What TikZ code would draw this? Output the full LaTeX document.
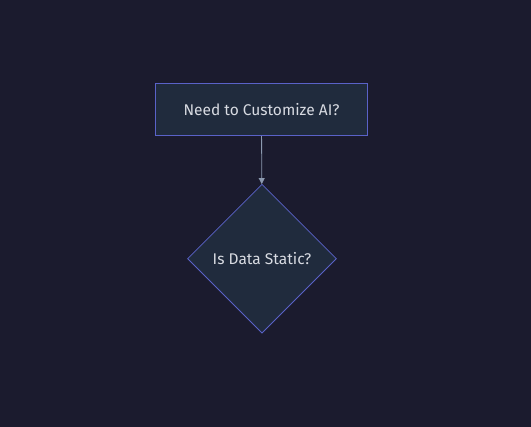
\documentclass[tikz,border=0pt]{standalone}
\usepackage{fontspec}
\setmainfont{Fira Sans}
\usetikzlibrary{shapes.geometric,arrows.meta}
\definecolor{bgc}{HTML}{1B1B2E}
\definecolor{fillc}{HTML}{202B3D}
\definecolor{linec}{HTML}{5A62C8}
\definecolor{txtc}{HTML}{D8DBE2}
\definecolor{arrc}{HTML}{8C9AB0}
\tikzset{
  box/.style={draw=linec, fill=fillc, line width=1.2pt, minimum width=212pt, minimum height=52pt, inner sep=0pt, text=txtc, font=\fontsize{15.5}{18}\selectfont},
  decision/.style={diamond, draw=linec, fill=fillc, line width=0.8pt, minimum width=149pt, minimum height=149pt, inner sep=0pt, text=txtc, font=\fontsize{15.5}{18}\selectfont},
  conn/.style={draw=arrc, line width=0.8pt, -{Triangle[length=6pt,width=6pt]}}
}
\begin{document}
\begin{tikzpicture}[x=1pt,y=-1pt]
\fill[bgc] (0,0) rectangle (531,427);
\useasboundingbox (0,0) rectangle (531,427);
\node[box] (q1) at (261.5,109.5) {Need to Customize AI?};
\node[decision] (q2) at (262,258.7) {Is Data Static?};
\draw[conn] (q1) -- (q2);
\end{tikzpicture}
\end{document}
